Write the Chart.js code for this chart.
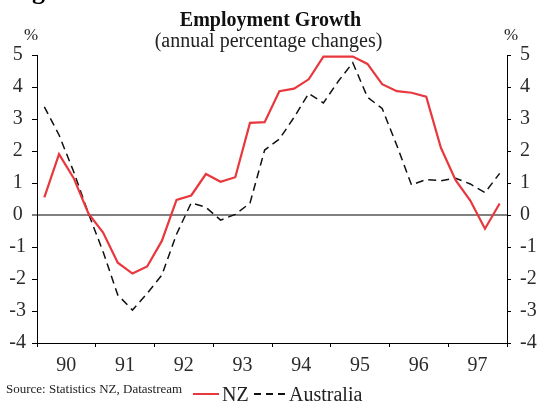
<!DOCTYPE html>
<html>
<head>
<meta charset="utf-8">
<script src="https://cdn.jsdelivr.net/npm/chart.js@4.4.1/dist/chart.umd.min.js"></script>
<style>
  html, body { margin: 0; padding: 0; background: #fff; }
  #wrap { position: relative; width: 539px; height: 403px; overflow: hidden; font-family: 'Liberation Serif', 'Times New Roman', serif; color: #222; }
  #wrap canvas { position: absolute; left: 0; top: 0; }
  .txt { position: absolute; white-space: nowrap; line-height: 1; }
  .ln { position: absolute; }
</style>
</head>
<body>
<div id="wrap">
  <canvas id="chart" width="539" height="403"></canvas>
  <div class="txt" style="left:32px; top:-22px; font-size:26px; font-weight:bold; color:#000;">g</div>
  <div class="txt" style="left:0; width:541px; text-align:center; top:9px; font-size:20px; font-weight:bold; color:#111;">Employment Growth</div>
  <div class="txt" style="left:0; width:537px; text-align:center; top:30px; font-size:20px;">(annual percentage changes)</div>
  <div class="txt" style="left:24px; top:26px; font-size:17px;">%</div>
  <div class="txt" style="left:504px; top:26px; font-size:17px;">%</div>
  <div class="txt" style="left:6px; top:382px; font-size:13px;">Source: Statistics NZ, Datastream</div>
  <div class="ln" style="left:193px; top:393px; width:26px; height:2px; background:#e8383d;"></div>
  <div class="txt" style="left:222px; top:384px; font-size:20px;">NZ</div>
  <div class="ln" style="left:254px; top:393px; width:31px; height:1.6px; background:repeating-linear-gradient(to right, #111 0 7px, rgba(0,0,0,0) 7px 12px);"></div>
  <div class="txt" style="left:289px; top:384px; font-size:20px;">Australia</div>
</div>
<script>
const quarters = [
  '90Q1', '90Q2', '90Q3', '90Q4', '91Q1', '91Q2', '91Q3', '91Q4',
  '92Q1', '92Q2', '92Q3', '92Q4', '93Q1', '93Q2', '93Q3', '93Q4',
  '94Q1', '94Q2', '94Q3', '94Q4', '95Q1', '95Q2', '95Q3', '95Q4',
  '96Q1', '96Q2', '96Q3', '96Q4', '97Q1', '97Q2', '97Q3', '97Q4'
];
const years = ['90', '91', '92', '93', '94', '95', '96', '97'];

const nzGrowth = [0.55, 1.9, 1.15, 0.05, -0.55, -1.49, -1.83, -1.61, -0.81, 0.47, 0.61, 1.28, 1.04, 1.18, 2.88, 2.9,
  3.87, 3.95, 4.24, 4.95, 4.95, 4.95, 4.72, 4.09, 3.87, 3.82, 3.7, 2.1, 1.09, 0.45, -0.43, 0.36];
const ausGrowth = [3.38, 2.5, 1.35, 0.05, -1.15, -2.5, -2.97, -2.45, -1.88, -0.6, 0.38, 0.24, -0.16, 0.02, 0.37, 2.03,
  2.37, 3.05, 3.8, 3.5, 4.17, 4.76, 3.68, 3.33, 2.17, 0.94, 1.11, 1.07, 1.15, 0.97, 0.7, 1.3];

const yMin = -4, yMax = 5;
const tickFont = { family: "'Liberation Serif', 'Times New Roman', serif", size: 20 };
const tickColour = '#2b2b2b';

new Chart(document.getElementById('chart'), {
  type: 'line',
  data: {
    labels: quarters,
    datasets: [
      {
        label: 'NZ',
        data: nzGrowth,
        borderColor: '#e8383d',
        borderWidth: 2.2,
        pointRadius: 0,
        tension: 0,
        yAxisID: 'y'
      },
      {
        label: 'Australia',
        data: ausGrowth,
        borderColor: '#111',
        borderWidth: 1.5,
        borderDash: [8, 5],
        pointRadius: 0,
        tension: 0,
        yAxisID: 'y'
      }
    ]
  },
  options: {
    responsive: false,
    animation: false,
    layout: { padding: { top: 55, left: 0, right: 0, bottom: 0 } },
    plugins: {
      legend: { display: false },
      title: { display: false },
      tooltip: { enabled: false }
    },
    scales: {
      x: {
        type: 'category',
        offset: true,
        afterFit: (scale) => { scale.height = 60; },
        border: { display: true, color: '#000', width: 1 },
        grid: {
          offset: true,
          drawOnChartArea: false,
          tickLength: 4,
          tickColor: (ctx) => (ctx.index === undefined || ctx.index % 4 === 0) ? '#000' : 'rgba(0,0,0,0)'
        },
        ticks: {
          autoSkip: false,
          maxRotation: 0,
          minRotation: 0,
          padding: 7,
          labelOffset: 7.3,
          font: tickFont,
          color: tickColour,
          callback: (val, i) => (i % 4 === 1) ? years[(i - 1) / 4] : ''
        }
      },
      y: {
        position: 'left',
        min: yMin,
        max: yMax,
        afterFit: (scale) => { scale.width = 37; },
        border: { display: true, color: '#000', width: 1 },
        grid: {
          drawOnChartArea: true,
          tickLength: 5,
          color: (ctx) => ctx.tick && ctx.tick.value === 0 ? '#808080' : 'rgba(0,0,0,0)',
          lineWidth: (ctx) => ctx.tick && ctx.tick.value === 0 ? 2 : 1,
          tickColor: '#000',
          tickWidth: 1
        },
        ticks: {
          stepSize: 1,
          padding: 6,
          crossAlign: 'center',
          font: tickFont,
          color: tickColour
        }
      },
      y2: {
        position: 'right',
        display: true,
        min: yMin,
        max: yMax,
        afterFit: (scale) => { scale.width = 32; },
        border: { display: true, color: '#000', width: 1 },
        grid: { drawOnChartArea: false, tickLength: 4, color: '#000' },
        ticks: {
          stepSize: 1,
          padding: 9,
          font: tickFont,
          color: tickColour
        }
      }
    }
  }
});
</script>
</body>
</html>
